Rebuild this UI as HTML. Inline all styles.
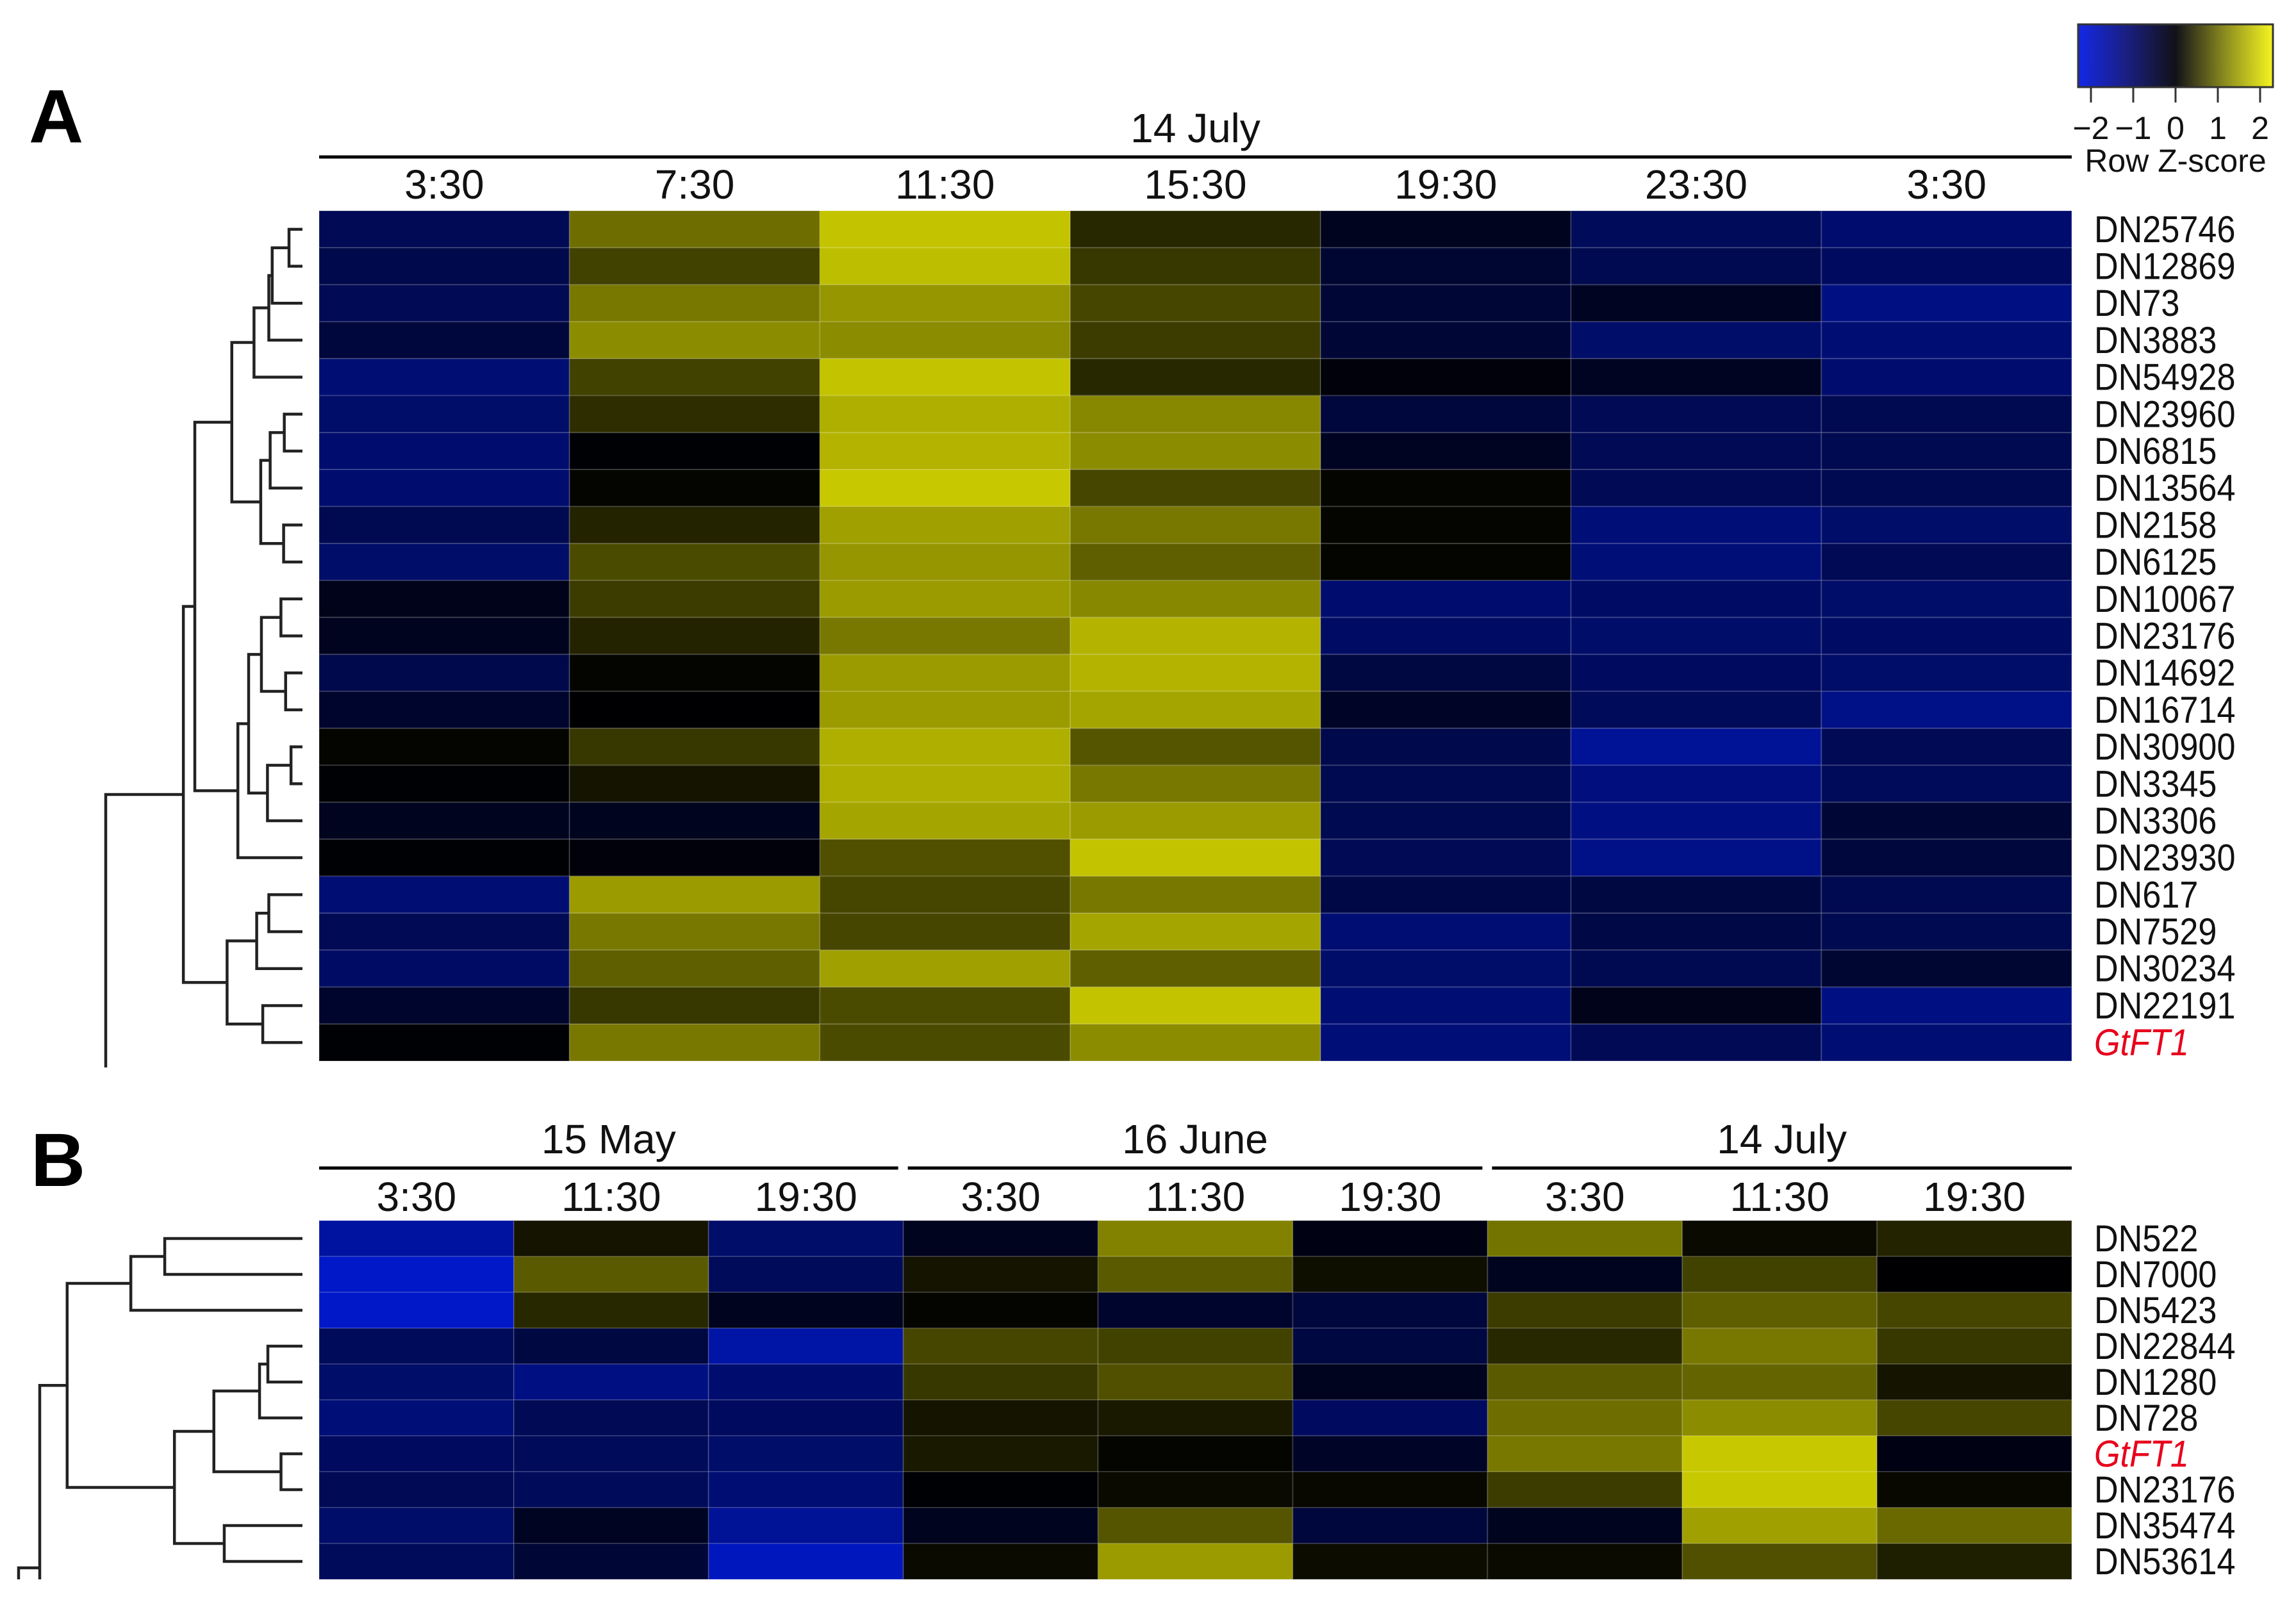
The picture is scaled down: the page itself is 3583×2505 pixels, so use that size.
<!DOCTYPE html>
<html><head><meta charset="utf-8"><style>
html,body{margin:0;padding:0;background:#fff;}
svg{display:block;}
text{font-family:"Liberation Sans",sans-serif;fill:#111;}
</style></head><body>
<svg id="fig" width="3583" height="2505" viewBox="0 0 3583 2505" xmlns="http://www.w3.org/2000/svg">
<defs><linearGradient id="cbg" x1="0" x2="1" y1="0" y2="0">
<stop offset="0" stop-color="#1428e6"/><stop offset="0.25" stop-color="#1a1f80"/><stop offset="0.5" stop-color="#111118"/><stop offset="0.75" stop-color="#8a8a20"/><stop offset="1" stop-color="#f5f520"/></linearGradient></defs>
<text x="45" y="222" font-size="118" font-weight="bold" style="fill:#000">A</text>
<text x="48" y="1851" font-size="118" font-weight="bold" style="fill:#000">B</text>
<g>
<rect x="3243" y="38" width="304" height="98" fill="url(#cbg)" stroke="#333" stroke-width="3"/>
<text x="3395" y="268" font-size="50" text-anchor="middle">Row Z-score</text>
</g>
<g id="gA"></g><g id="gB"></g><g id="gK"></g>
</svg>
<script>
// ---------- data ----------
const timesA = ["3:30","7:30","11:30","15:30","19:30","23:30","3:30"];
const dateA = ["14 July"];
const genesA = ["DN25746","DN12869","DN73","DN3883","DN54928","DN23960","DN6815","DN13564","DN2158","DN6125","DN10067","DN23176","DN14692","DN16714","DN30900","DN3345","DN3306","DN23930","DN617","DN7529","DN30234","DN22191","GtFT1"];
const zA = [
[-0.85,1.1,1.95,0.4,-0.3,-0.9,-1.1],
[-0.75,0.65,1.9,0.55,-0.5,-0.8,-0.95],
[-0.85,1.2,1.5,0.7,-0.55,-0.35,-1.3],
[-0.6,1.4,1.4,0.6,-0.55,-1.05,-1.15],
[-1.15,0.65,1.95,0.4,-0.1,-0.35,-1.1],
[-1.05,0.45,1.75,1.35,-0.6,-0.85,-0.8],
[-1.1,-0.05,1.8,1.4,-0.35,-0.85,-0.8],
[-1.1,0.05,2.0,0.7,0.05,-0.85,-0.8],
[-0.8,0.35,1.6,1.2,0.05,-1.2,-1.05],
[-1.05,0.75,1.5,0.95,0.05,-1.2,-0.85],
[-0.25,0.6,1.55,1.35,-1.1,-1.0,-1.05],
[-0.3,0.35,1.2,1.8,-1.0,-1.05,-1.0],
[-0.75,0.05,1.55,1.8,-0.65,-0.95,-1.05],
[-0.45,-0.02,1.55,1.65,-0.4,-0.9,-1.35],
[0.05,0.55,1.75,0.85,-0.75,-1.5,-0.85],
[-0.05,0.2,1.75,1.2,-0.8,-1.25,-0.9],
[-0.3,-0.3,1.65,1.55,-0.8,-1.3,-0.55],
[-0.05,-0.1,0.8,1.95,-0.85,-1.35,-0.6],
[-1.15,1.55,0.7,1.2,-0.7,-0.65,-0.8],
[-0.85,1.2,0.7,1.65,-1.15,-0.7,-0.8],
[-1.0,0.95,1.6,0.95,-1.05,-0.8,-0.5],
[-0.45,0.55,0.75,1.95,-1.15,-0.25,-1.3],
[-0.05,1.2,0.75,1.4,-1.2,-0.85,-1.15]];
const timesB = ["3:30","11:30","19:30","3:30","11:30","19:30","3:30","11:30","19:30"];
const datesB = ["15 May","16 June","14 July"];
const genesB = ["DN522","DN7000","DN5423","DN22844","DN1280","DN728","GtFT1","DN23176","DN35474","DN53614"];
const zB = [
[-1.6,0.2,-1.05,-0.3,1.3,-0.2,1.15,0.1,0.35],
[-2.0,0.9,-0.9,0.2,0.9,0.15,-0.3,0.65,-0.02],
[-2.0,0.4,-0.3,0.05,-0.45,-0.6,0.6,0.95,0.7],
[-0.9,-0.65,-1.65,0.7,0.65,-0.65,0.4,1.2,0.55],
[-1.05,-1.3,-1.1,0.55,0.8,-0.3,0.9,1.0,0.2],
[-1.2,-0.85,-0.95,0.2,0.25,-0.95,1.1,1.4,0.7],
[-0.95,-0.9,-1.05,0.25,0.05,-0.4,1.2,2.0,-0.2],
[-0.85,-0.9,-1.15,-0.05,0.1,0.08,0.6,2.0,0.08],
[-1.05,-0.35,-1.5,-0.3,0.85,-0.6,-0.3,1.6,1.05],
[-0.9,-0.55,-1.9,0.1,1.55,0.12,0.1,0.8,0.3]];
// dendrogram merges: [childA, childB, branch height (distance)]
const mergesA = [[0,1,0.2],[23,2,0.45],[24,3,0.5],[25,4,0.72],[5,6,0.27],[27,7,0.48],[8,9,0.28],[28,29,0.62],[26,30,1.05],[10,11,0.32],[12,13,0.25],[32,33,0.61],[14,15,0.17],[35,16,0.52],[34,36,0.8],[37,17,0.96],[31,38,1.6],[18,19,0.5],[40,20,0.68],[21,22,0.59],[41,42,1.12],[39,43,1.77]];
const mergesB = [[0,1,1.99],[10,2,2.48],[3,4,0.5],[12,5,0.62],[6,7,0.31],[13,14,1.28],[8,9,1.13],[15,16,1.85],[11,17,3.4]];
const ticksK = [-2,-1,0,1,2];
// ---------- helpers ----------
const NS="http://www.w3.org/2000/svg";
function mk(tag,attrs,parent){const e=document.createElementNS(NS,tag);for(const k in attrs)e.setAttribute(k,attrs[k]);parent.appendChild(e);return e;}
function col(z){const a=Math.min(Math.abs(z),2.2);if(z>=0){const v=Math.round(100*a);return `rgb(${v},${v},0)`;}return `rgb(0,${Math.round(12*a)},${Math.round(100*a)})`;}
const X0=498,X1=3233,LEAF=472;
function heat(g,z,genes,y0,rh,prefix){
  const nc=z[0].length,cw=(X1-X0)/nc;
  z.forEach((row,i)=>{row.forEach((v,j)=>{
    const r=mk('rect',{x:X0+j*cw,y:y0+i*rh,width:cw,height:rh,fill:col(v),stroke:'rgba(255,255,255,0.13)','stroke-width':2},g);
    
    
  });
  const t=mk('text',{x:3268,y:y0+i*rh+rh/2+20,'font-size':58,transform:`translate(${3268*0.1},0) scale(0.9,1)`},g);
  t.setAttribute('x',3268);
  t.textContent=genes[i];
  if(genes[i]==='GtFT1'){t.setAttribute('style','fill:#e8001c;font-style:italic');}
  
  
  });
  return cw;
}
function dendro(g,merges,n,y0,rh,scale,prefix){
  const pos=[];for(let i=0;i<n;i++)pos.push({x:LEAF,y:y0+rh*i+rh/2});
  merges.forEach(m=>{
    const a=pos[m[0]],b=pos[m[1]],x=LEAF-m[2]*scale,y=(a.y+b.y)/2;
    const p=mk('path',{d:`M${a.x},${a.y}H${x}V${b.y}H${b.x}`,fill:'none',stroke:'#222','stroke-width':4.5},g);
    
    
    pos.push({x:x,y:y});
  });
  return pos[pos.length-1];
}
// ---------- panel A ----------
const gA=document.getElementById('gA');
const rhA=(1656-329)/23;
const cwA=heat(gA,zA,genesA,329,rhA,'panel-a');
timesA.forEach((t,j)=>{const e=mk('text',{x:X0+cwA*(j+0.5),y:310,'font-size':64,'text-anchor':'middle'},gA);e.textContent=t;

});
let ln=mk('line',{x1:X0,x2:X1,y1:245,y2:245,stroke:'#000','stroke-width':5},gA);


let dt=mk('text',{x:(X0+X1)/2,y:222,'font-size':64,'text-anchor':'middle'},gA);dt.textContent=dateA[0];


const rA=dendro(gA,mergesA,23,329,rhA,105,'panel-a');
let rp=mk('path',{d:`M${rA.x},${rA.y}H165V1666`,fill:'none',stroke:'#222','stroke-width':4.5},gA);


// ---------- panel B ----------
const gB=document.getElementById('gB');
const rhB=(2465-1905)/10;
const cwB=heat(gB,zB,genesB,1905,rhB,'panel-b');
timesB.forEach((t,j)=>{const e=mk('text',{x:X0+cwB*(j+0.5),y:1890,'font-size':64,'text-anchor':'middle'},gB);e.textContent=t;

});
datesB.forEach((d,k)=>{
  const xa=X0+cwB*3*k+(k?7:0),xb=X0+cwB*3*(k+1)-(k<2?8:0);
  const l=mk('line',{x1:xa,x2:xb,y1:1823,y2:1823,stroke:'#000','stroke-width':5},gB);
  
  
  const t=mk('text',{x:(xa+xb)/2,y:1800,'font-size':64,'text-anchor':'middle'},gB);t.textContent=d;
  
  
});
const rB=dendro(gB,mergesB,10,1905,rhB,108,'panel-b');
let rpb=mk('path',{d:`M${rB.x},${rB.y}H62V2465M62,2447H29V2465`,fill:'none',stroke:'#222','stroke-width':4.5},gB);


// ---------- color key ticks ----------
const gK=document.getElementById('gK');
ticksK.forEach(v=>{const x=3395+v*66;
  const l=mk('line',{x1:x,x2:x,y1:137,y2:160,stroke:'#333','stroke-width':3},gK);
  
  
  const t=mk('text',{x:x,y:217,'font-size':50,'text-anchor':'middle'},gK);t.textContent=(v<0?'\u2212':'')+Math.abs(v);
  
  
});
</script>
</body></html>
